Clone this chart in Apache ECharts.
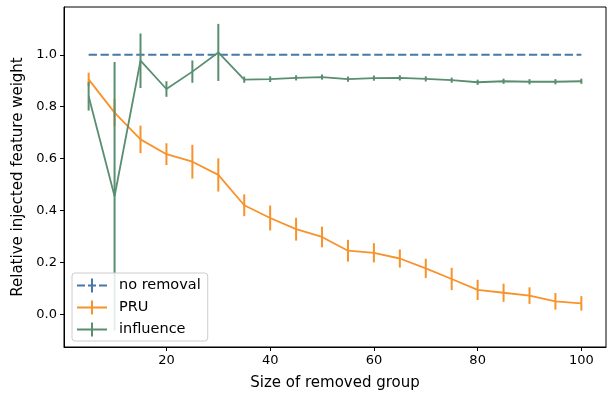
<!DOCTYPE html>
<html>
<head>
<meta charset="utf-8">
<script src="https://cdn.jsdelivr.net/npm/echarts@6/dist/echarts.min.js"></script>
<style>
  html, body { margin: 0; padding: 0; background: #fff; }
  #chart { width: 607px; height: 396px; }
</style>
</head>
<body>
<div id="chart"></div>
<script>
// group sizes on the x axis
const groupSizes = [5, 10, 15, 20, 25, 30, 35, 40, 45, 50, 55, 60, 65, 70, 75, 80, 85, 90, 95, 100];

const noRemoval = [1, 1, 1, 1, 1, 1, 1, 1, 1, 1, 1, 1, 1, 1, 1, 1, 1, 1, 1, 1];
const noRemovalErr = [0, 0, 0, 0, 0, 0, 0, 0, 0, 0, 0, 0, 0, 0, 0, 0, 0, 0, 0, 0];

const pru = [0.905, 0.777, 0.674, 0.617, 0.588, 0.537, 0.42, 0.371, 0.328, 0.298,
    0.245, 0.237, 0.215, 0.177, 0.136, 0.094, 0.083, 0.072, 0.05, 0.042];
const pruErr = [0.026, 0.053, 0.053, 0.042, 0.065, 0.064, 0.042, 0.048, 0.044, 0.04,
    0.042, 0.037, 0.035, 0.037, 0.043, 0.039, 0.035, 0.032, 0.032, 0.028];

const influence = [0.84, 0.455, 0.977, 0.868, 0.935, 1.009, 0.904, 0.906, 0.911, 0.914,
    0.906, 0.91, 0.911, 0.907, 0.902, 0.894, 0.898, 0.896, 0.896, 0.898];
const influenceErr = [0.055, 0.517, 0.105, 0.03, 0.043, 0.11, 0.012, 0.011, 0.01, 0.01,
    0.01, 0.01, 0.01, 0.01, 0.01, 0.01, 0.01, 0.01, 0.01, 0.01];

const xTicks = [20, 40, 60, 80, 100];
const yTicks = [0, 0.2, 0.4, 0.6, 0.8, 1.0];

const BLUE = "#4679a8";
const ORANGE = "#f8922a";
const GREEN = "#5a8e70";
const FONT = "DejaVu Sans";

const pts = (vals) => groupSizes.map((x, i) => [x, vals[i]]);
const bars = (vals, errs) => groupSizes.map((x, i) => [x, vals[i] - errs[i], vals[i] + errs[i]]);

const errorSeries = (name, vals, errs, color, width, z) => ({
    name: name,
    type: "custom",
    z: z,
    silent: true,
    data: bars(vals, errs),
    encode: { x: 0, y: [1, 2] },
    renderItem: function (params, api) {
        const lo = api.coord([api.value(0), api.value(1)]);
        const hi = api.coord([api.value(0), api.value(2)]);
        return {
            type: "line",
            shape: { x1: lo[0], y1: lo[1], x2: hi[0], y2: hi[1] },
            style: { stroke: color, lineWidth: width },
        };
    },
});

const lineSeries = (name, vals, color, type, z) => ({
    name: name,
    type: "line",
    z: z,
    symbol: "none",
    silent: true,
    data: pts(vals),
    lineStyle: { color: color, width: type === "solid" ? 1.8 : 2, type: type },
    itemStyle: { color: color },
});

const solidIcon = "path://M0,6h30v2h-30z M14,0h2v14h-2z";
const dashIcon = "path://M0,6h8v2h-8z M11,6h8v2h-8z M22,6h8v2h-8z M14,0h2v14h-2z";

const chart = echarts.init(document.getElementById("chart"));
chart.setOption({
    animation: false,
    textStyle: { fontFamily: FONT },
    grid: { left: 64, right: 1, top: 7, bottom: 47, show: true, borderColor: "#000", borderWidth: 1 },
    legend: {
        orient: "vertical",
        left: 72,
        top: 273,
        z: 20,
        padding: [5, 7, 4, 5],
        itemWidth: 30,
        itemHeight: 14,
        itemGap: 7,
        backgroundColor: "rgba(255,255,255,0.85)",
        borderColor: "#cccccc",
        borderWidth: 1,
        borderRadius: 3,
        textStyle: { fontFamily: FONT, fontSize: 14.5, color: "#000", padding: [0, 0, 0, 7] },
        data: [
            { name: "no removal", icon: dashIcon, itemStyle: { color: BLUE } },
            { name: "PRU", icon: solidIcon, itemStyle: { color: ORANGE } },
            { name: "influence", icon: solidIcon, itemStyle: { color: GREEN } },
        ],
    },
    xAxis: {
        type: "value",
        min: 0.25,
        max: 104.75,
        name: "Size of removed group",
        nameLocation: "middle",
        nameGap: 29,
        nameTextStyle: { fontFamily: FONT, fontSize: 15, color: "#000" },
        axisLine: { show: true, onZero: false, lineStyle: { color: "#000", width: 1 } },
        axisTick: { show: true, customValues: xTicks, length: 4, inside: false, lineStyle: { color: "#000" } },
        axisLabel: { customValues: xTicks, fontFamily: FONT, fontSize: 13, color: "#000", margin: 7 },
        splitLine: { show: false },
    },
    yAxis: {
        type: "value",
        min: -0.126,
        max: 1.184,
        name: "Relative injected feature weight",
        nameLocation: "middle",
        nameGap: 38,
        nameTextStyle: { fontFamily: FONT, fontSize: 15, color: "#000" },
        axisLine: { show: true, onZero: false, lineStyle: { color: "#000", width: 1 } },
        axisTick: { show: true, customValues: yTicks, length: 4, lineStyle: { color: "#000" } },
        axisLabel: {
            customValues: yTicks,
            fontFamily: FONT,
            fontSize: 13,
            color: "#000",
            margin: 7,
            formatter: (v) => v.toFixed(1),
        },
        splitLine: { show: false },
    },
    series: [
        lineSeries("no removal", noRemoval, BLUE, [8.3, 3.6], 3),
        errorSeries("no removal", noRemoval, noRemovalErr, BLUE, 2, 3),
        lineSeries("PRU", pru, ORANGE, "solid", 4),
        errorSeries("PRU", pru, pruErr, ORANGE, 2, 4),
        lineSeries("influence", influence, GREEN, "solid", 5),
        errorSeries("influence", influence, influenceErr, GREEN, 2, 5),
    ],
});
</script>
</body>
</html>
